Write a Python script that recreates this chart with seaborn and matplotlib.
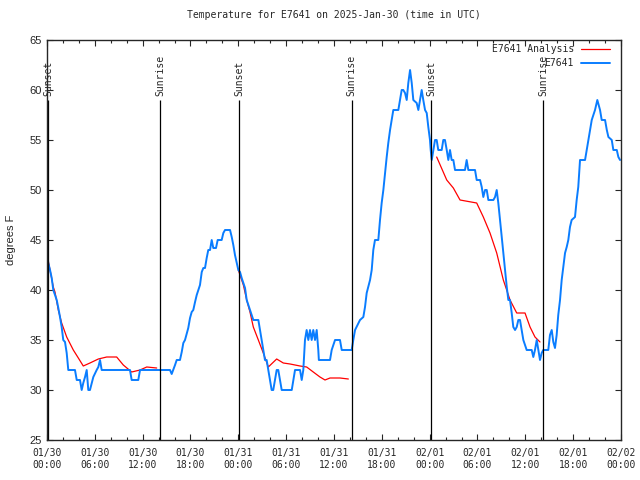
import pandas as pd
import matplotlib
matplotlib.use("Agg")
import matplotlib.pyplot as plt
import matplotlib.dates as mdates
import seaborn as sns

# hours after 2025-01-30 00:00 UTC
obs_hours = [0, 0.06, 0.16, 0.38, 0.59, 0.79, 1.22, 1.42, 1.63, 1.84, 2.04, 2.26, 2.47, 2.67,
             3.51, 3.73, 4.14, 4.35, 4.55, 4.77, 4.98, 5.18, 5.39, 5.81, 6.23, 6.44, 6.65, 6.86,
             10.41, 10.62, 11.45, 11.67, 15.43, 15.64, 16.06, 16.27, 16.68, 16.9, 17.1, 17.31,
             17.72, 17.94, 18.15, 18.35, 18.57, 18.78, 18.98, 19.19, 19.41, 19.61, 19.82, 20.03,
             20.23, 20.45, 20.66, 20.86, 21.2, 21.41, 21.91, 22.12, 22.33, 22.96, 23.17, 23.37,
             23.58, 23.8, 24.0, 24.21, 24.42, 24.84, 25.05, 25.46, 25.88, 26.51, 26.72, 26.93,
             27.13, 27.34, 27.55, 27.76, 27.97, 28.18, 28.38, 28.6, 28.81, 29.01, 29.23, 29.44,
             30.7, 30.9, 31.11, 31.74, 31.95, 32.15, 32.36, 32.57, 32.78, 32.99, 33.2, 33.4,
             33.62, 33.83, 34.03, 34.1, 35.5, 35.71, 36.13, 36.75, 36.97, 38.22, 38.42, 38.64,
             39.26, 39.68, 39.89, 40.1, 40.52, 40.73, 40.93, 41.14, 41.56, 41.77, 41.98, 42.19,
             42.4, 42.61, 42.81, 43.03, 43.24, 43.44, 44.07, 44.28, 44.49, 44.69, 44.91, 45.12,
             45.32, 45.54, 45.75, 45.95, 46.37, 46.58, 46.79, 47.0, 47.2, 47.42, 47.63, 47.83,
             48.04, 48.13, 48.26, 48.46, 48.67, 48.88, 49.08, 49.51, 49.71, 49.92, 50.14, 50.34,
             50.55, 50.76, 50.97, 51.18, 52.43, 52.64, 52.85, 53.69, 53.9, 54.32, 54.53, 54.73,
             54.95, 55.16, 55.36, 55.99, 56.2, 56.41, 56.61, 56.83, 57.04, 57.24, 57.45, 57.67,
             57.87, 58.08, 58.29, 58.49, 58.71, 58.92, 59.12, 59.33, 59.54, 59.75, 60.17, 60.8,
             61.0, 61.21, 61.43, 61.63, 61.84, 62.05, 62.25, 62.88, 63.09, 63.31, 63.51, 63.72,
             63.93, 64.13, 64.35, 64.56, 64.76, 64.98, 65.19, 65.39, 65.6, 65.81, 66.23, 66.44,
             66.64, 66.86, 67.49, 67.7, 67.9, 68.11, 68.33, 68.74, 69.03, 69.37, 69.58, 70.0,
             70.22, 70.42, 70.84, 71.04, 71.47, 71.67, 71.88]
obs_temp = [44.5, 43.5, 42.7, 42, 41.2, 40, 39, 38.2, 37.3, 36.3, 35, 34.8, 33.7, 32,
            32, 31, 31, 30, 30.7, 31.3, 32, 30, 30, 31.3, 32, 32.3, 33, 32,
            32, 31, 31, 32, 32, 31.6, 32.5, 33, 33, 33.8, 34.7, 35,
            36.2, 37.2, 37.8, 38, 38.8, 39.5, 40, 40.5, 41.8, 42.2, 42.2, 43.2,
            44, 44, 45, 44.2, 44.2, 45, 45, 45.7, 46, 46, 45.3, 44.5,
            43.5, 42.7, 42, 41.8, 41.2, 40.2, 39, 38, 37, 37, 36, 35,
            34, 33, 33, 32, 31, 30, 30, 31, 32, 32, 31, 30,
            30, 31, 32, 32, 31, 32, 35, 36, 35, 36, 35, 36,
            35, 36, 34, 33, 33, 34, 35, 35, 34, 34, 35, 36,
            37, 37.3, 38.3, 39.7, 41, 42, 44, 45, 45, 47, 48.7, 50,
            51.7, 53.3, 54.7, 56, 57, 58, 58, 59, 60, 60, 59.7, 59,
            60.7, 62, 60.7, 59, 58.7, 58, 59, 60, 59, 58, 57.7, 56.3,
            55, 54, 53, 54, 55, 55, 54, 54, 55, 55, 54, 53,
            54, 53, 53, 52, 52, 53, 52, 52, 51, 51, 50.3, 49.3,
            50, 50, 49, 49, 49.3, 50, 48.7, 47, 45.3, 43.7, 42, 40.3,
            39, 39, 37.7, 36.3, 36, 36.3, 37, 37, 36, 35, 34, 34,
            33.3, 34, 35, 34, 33, 33.7, 34, 34, 35.5, 36, 34.8, 34.2,
            35.5, 37.5, 39, 41, 42.3, 43.7, 44.3, 45, 46.3, 47, 47.3, 49,
            50.3, 53, 53, 54, 55, 56, 57, 58, 59, 58, 57, 57,
            56, 55.3, 55, 54, 54, 53.3, 53]

ana_hours = [[0, 0.38, 0.79, 1.0, 1.42, 1.84, 2.47, 3.3, 3.93, 4.55, 5.39, 6.44, 7.49, 8.74,
              9.57, 10.62, 11.67, 12.51, 13.76],
             [24.0, 24.63, 25.05, 25.46, 25.88, 26.51, 27.13, 27.76, 28.81, 29.64, 30.49, 31.74,
              32.57, 33.4, 34.24, 34.87, 35.5, 36.75, 37.8],
             [48.88, 50.14, 50.97, 51.81, 53.9, 54.73, 55.57, 56.41, 57.24, 58.08, 58.92, 59.96,
              60.59, 61.21, 61.84]]
ana_temp = [[43.5, 42, 40.3, 39.8, 38, 36.7, 35.3, 34, 33.2, 32.4, 32.7, 33.1, 33.3, 33.3,
             32.5, 31.8, 32, 32.3, 32.2],
            [42, 40.5, 39, 37.8, 36.3, 35, 33.7, 32.3, 33.1, 32.7, 32.6, 32.4,
             32.3, 31.8, 31.3, 31.0, 31.2, 31.2, 31.1],
            [53.3, 51, 50.2, 49, 48.7, 47.3, 45.7, 43.7, 41, 39, 37.7, 37.7,
             36.3, 35.3, 34.8]]

sun_hours = [0.17, 14.2, 24.1, 38.22, 48.2, 62.25]
sun_labels = ["Sunset", "Sunrise", "Sunset", "Sunrise", "Sunset", "Sunrise"]

base = pd.Timestamp("2025-01-30 00:00")
obs_df = pd.DataFrame({"time": base + pd.to_timedelta(obs_hours, unit="h"), "temp": obs_temp})
ana_df = pd.concat([
    pd.DataFrame({"time": base + pd.to_timedelta(h, unit="h"), "temp": t, "seg": i})
    for i, (h, t) in enumerate(zip(ana_hours, ana_temp))
])

sns.set_style("ticks")
mono = "DejaVu Sans Mono"
red = "#ff0000"
blue = "#0a7dff"

fig = plt.figure(figsize=(6.4, 4.8), dpi=100)
ax = fig.add_axes([47 / 640, 40 / 480, 574 / 640, 400 / 480])

sns.lineplot(data=ana_df, x="time", y="temp", units="seg", estimator=None,
             color=red, lw=0.9, ax=ax)
sns.lineplot(data=obs_df, x="time", y="temp", color=blue, lw=1.4, ax=ax)

for h, lab in zip(sun_hours, sun_labels):
    t = base + pd.Timedelta(hours=h)
    ax.vlines(t, 25, 59, color="black", lw=0.9)
    ax.text(t, 59.4, lab, rotation=90, ha="center", va="bottom",
            family=mono, fontsize=7)

ax.set_xlim(base, base + pd.Timedelta(hours=72))
ax.set_ylim(25, 65)
ax.set_yticks(range(25, 66, 5))
ax.xaxis.set_major_locator(mdates.HourLocator(byhour=[0, 6, 12, 18]))
ax.xaxis.set_minor_locator(mdates.HourLocator(byhour=range(0, 24, 2)))
ax.xaxis.set_major_formatter(mdates.DateFormatter("%m/%d\n%H:%M"))
ax.tick_params(which="major", direction="in", top=True, right=True, length=4, width=0.8)
ax.tick_params(which="minor", direction="in", top=True, right=False, length=2, width=0.8)
ax.tick_params(axis="x", pad=6)
for lbl in ax.get_xticklabels():
    lbl.set_family(mono)
    lbl.set_fontsize(7)
for lbl in ax.get_yticklabels():
    lbl.set_family("Liberation Sans")
    lbl.set_fontsize(8)
for sp in ax.spines.values():
    sp.set_linewidth(1.0)

ax.set_xlabel("")
ax.set_ylabel("degrees F", family="Liberation Sans", fontsize=8, labelpad=10)
ax.set_title("Temperature for E7641 on 2025-Jan-30 (time in UTC)",
             family=mono, fontsize=7, pad=16)

# key in the upper right, text right-aligned like gnuplot
for ypos, name, col, lw in [(0.977, "E7641 Analysis", red, 0.9), (0.942, "E7641", blue, 1.4)]:
    ax.text(0.918, ypos, name, transform=ax.transAxes, ha="right", va="center",
            family=mono, fontsize=7)
    ax.plot([0.930, 0.981], [ypos, ypos], transform=ax.transAxes, color=col, lw=lw)

fig.savefig("out.png", dpi=100)
